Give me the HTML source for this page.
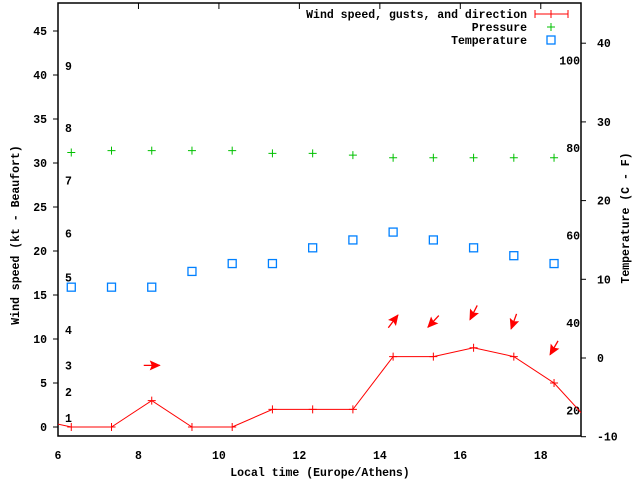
<!DOCTYPE html>
<html><head><meta charset="utf-8"><style>
body{margin:0;background:#fff}
svg text{font-family:"Liberation Mono",monospace;font-weight:bold;font-size:11.5px;fill:#000}
</style></head><body>
<svg id="chart" width="640" height="480" xmlns="http://www.w3.org/2000/svg">
<defs><marker id="ah" markerWidth="11" markerHeight="10" refX="10" refY="5" orient="auto" markerUnits="userSpaceOnUse"><path d="M0,0 L11,5 L0,10 L2,5 Z" fill="#f00"/></marker></defs>
<g id="marks"></g>
</svg>
<script>
const hours=[6.33,7.33,8.33,9.33,10.33,11.33,12.33,13.33,14.33,15.33,16.33,17.33,18.33];
const wind=[0,0,3,0,0,2,2,2,8,8,9,8,5];
const windPrev=1, windNext=0;
const dirDeg=[null,null,90,null,null,null,null,null,37,223,207,200,210];
const pressure=[31.2,31.4,31.4,31.4,31.4,31.1,31.1,30.9,30.6,30.6,30.6,30.6,30.6];
const tempC=[9,9,9,11,12,12,14,15,16,15,14,13,12];
const xTicks=[6,8,10,12,14,16,18];
const yTicks=[0,5,10,15,20,25,30,35,40,45];
const cTicks=[-10,0,10,20,30,40];
const fLabels=[20,40,60,80,100];
const beaufort=[1,4,7,11,17,22,28,34,41];
const L=58,R=581,T=3,B=436;
const X=h=>L+(h-6)*(R-L)/13;
const Y=v=>427-v*8.8;
const YC=c=>358-c*7.87;
const NS='http://www.w3.org/2000/svg';
const g=document.getElementById('marks');
function mk(t,a,p){const e=document.createElementNS(NS,t);for(const k in a)e.setAttribute(k,a[k]);(p||g).appendChild(e);return e;}
let e;
e=mk('rect',{x:L,y:T,width:R-L,height:B-T,fill:'none',stroke:'#000','stroke-width':1.5});

xTicks.forEach(h=>{mk('line',{x1:X(h),x2:X(h),y1:T,y2:T+6,stroke:'#000'});
 e=mk('text',{x:X(h),y:459,'text-anchor':'middle'});e.textContent=h;
 });
yTicks.forEach(v=>{mk('line',{x1:L-5,x2:L,y1:Y(v),y2:Y(v),stroke:'#000'});
 e=mk('text',{x:47,y:Y(v)+4,'text-anchor':'end'});e.textContent=v;
 });
cTicks.forEach(c=>{mk('line',{x1:R,x2:R+5,y1:YC(c),y2:YC(c),stroke:'#000'});
 e=mk('text',{x:597,y:YC(c)+4});e.textContent=c;
 });
fLabels.forEach(f=>{e=mk('text',{x:580,y:YC((f-32)*5/9)+4,'text-anchor':'end'});e.textContent=f;
 });
beaufort.forEach((k,i)=>{e=mk('text',{x:65,y:Y(k)+4});e.textContent=i+1;
 });
e=mk('text',{x:320,y:476,'text-anchor':'middle'});e.textContent='Local time (Europe/Athens)';

e=mk('text',{x:0,y:0,'text-anchor':'middle',transform:'translate(19,235) rotate(-90)'});e.textContent='Wind speed (kt - Beaufort)';

e=mk('text',{x:0,y:0,'text-anchor':'middle',transform:'translate(629,218) rotate(-90)'});e.textContent='Temperature (C - F)';

const cp=mk('clipPath',{id:'pc'});mk('rect',{x:L,y:T,width:R-L,height:B-T},cp);
const cg=mk('g',{'clip-path':'url(#pc)'});
let pts=[[hours[0]-1,windPrev]].concat(hours.map((h,i)=>[h,wind[i]])).concat([[hours[hours.length-1]+1,windNext]]);
e=mk('polyline',{points:pts.map(p=>X(p[0])+','+Y(p[1])).join(' '),fill:'none',stroke:'#f00','stroke-width':1},cg);

hours.forEach((h,i)=>{const x=X(h),y=Y(wind[i]);
 e=mk('path',{d:`M${x-4},${y}H${x+4}M${x},${y-4}V${y+4}`,stroke:'#f00'},cg);
 
 if(dirDeg[i]!==null){const a=dirDeg[i]*Math.PI/180,dx=Math.sin(a)*8,dy=-Math.cos(a)*8,cy=Y(wind[i]+4);
  e=mk('line',{x1:x-dx,y1:cy-dy,x2:x+dx,y2:cy+dy,stroke:'#f00','stroke-width':1.3,'marker-end':'url(#ah)'},cg);
  }
 const px=X(h),py=Y(pressure[i]);
 e=mk('path',{d:`M${px-4},${py}H${px+4}M${px},${py-4}V${py+4}`,stroke:'#00c000'},cg);
 
 const ty=YC(tempC[i]);
 e=mk('rect',{x:px-4,y:ty-4,width:8,height:8,fill:'none',stroke:'#0080ff','stroke-width':1.3},cg);
 
});
const leg=[['Wind speed, gusts, and direction',14],['Pressure',27],['Temperature',40]];
leg.forEach((l,i)=>{e=mk('text',{x:527,y:l[1]+4,'text-anchor':'end'});e.textContent=l[0];
 });
mk('path',{d:'M535,14H568M535,10V18M568,10V18M551,10V18',stroke:'#f00'});
mk('path',{d:'M547,27H555M551,23V31',stroke:'#00c000'});
mk('rect',{x:547,y:36,width:8,height:8,fill:'none',stroke:'#0080ff','stroke-width':1.3});
</script>
</body></html>
